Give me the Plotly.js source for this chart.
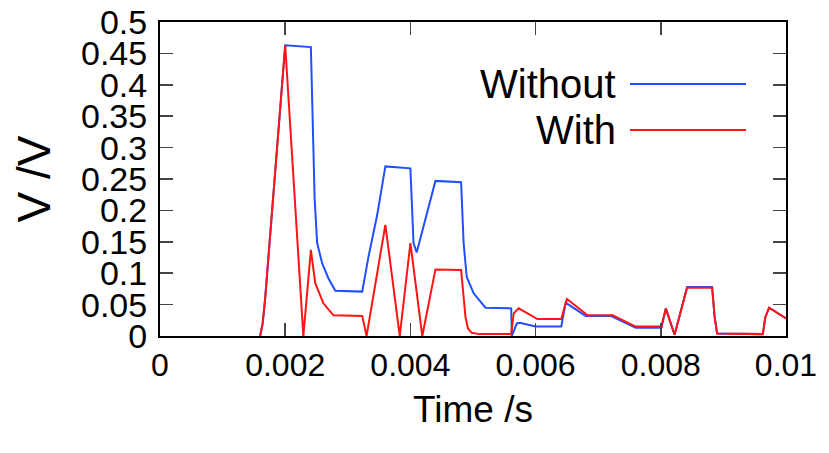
<!DOCTYPE html>
<html>
<head>
<meta charset="utf-8">
<script src="https://cdn.plot.ly/plotly-3.0.1.min.js"></script>
<style>
  html, body { margin: 0; padding: 0; background: #fff; }
  #graphique { width: 829px; height: 453px; }
</style>
</head>
<body>
<div id="graphique"></div>
<script>
// valeurs
var tempsSans = [0.0016, 0.00164, 0.00168, 0.002, 0.00241, 0.00244, 0.00247, 0.00251, 0.00259, 0.00269, 0.0028,
    0.00323, 0.00333, 0.00347, 0.0036, 0.004, 0.00405, 0.0041, 0.0044, 0.00481, 0.00485, 0.0049, 0.00501,
    0.0052, 0.00561, 0.00562, 0.0057, 0.00575, 0.006, 0.00641, 0.00648, 0.0068, 0.0072, 0.0076, 0.00801,
    0.00808, 0.00822, 0.00842, 0.00882, 0.00886, 0.0089, 0.00963, 0.00967, 0.00973, 0.01];
var tensionSans = [0, 0.02, 0.06, 0.463, 0.46, 0.36, 0.22, 0.148, 0.116, 0.092, 0.072,
    0.0707, 0.126, 0.193, 0.27, 0.267, 0.148, 0.133, 0.247, 0.245, 0.148, 0.094, 0.068,
    0.045, 0.044, 0, 0.02, 0.021, 0.015, 0.015, 0.053, 0.032, 0.032, 0.013, 0.013,
    0.044, 0.002, 0.078, 0.078, 0.03, 0.004, 0.003, 0.03, 0.045, 0.028];

var tempsAvec = [0.0016, 0.00164, 0.00168, 0.002, 0.00229, 0.00241, 0.00248, 0.00261, 0.00277, 0.00323,
    0.0033, 0.0036, 0.00383, 0.004, 0.00419, 0.0044, 0.00481, 0.00485, 0.00488, 0.00492, 0.00498, 0.0051,
    0.00561, 0.00565, 0.00573, 0.00603, 0.00641, 0.0065, 0.00683, 0.00723, 0.0076, 0.00801, 0.00808,
    0.00822, 0.00842, 0.00882, 0.00886, 0.0089, 0.00963, 0.00967, 0.00973, 0.01];
var tensionAvec = [0, 0.02, 0.06, 0.463, 0, 0.137, 0.084, 0.052, 0.033, 0.032,
    0, 0.177, 0, 0.148, 0, 0.106, 0.105, 0.06, 0.03, 0.012, 0.005, 0.003,
    0.003, 0.036, 0.044, 0.027, 0.027, 0.059, 0.033, 0.033, 0.015, 0.015, 0.044,
    0.002, 0.077, 0.077, 0.03, 0.004, 0.003, 0.03, 0.045, 0.028];

var noms = ['Without', 'With'];
var couleurs = ['#1f4fff', '#ff1414'];

document.addEventListener('DOMContentLoaded', function() {
    creerGraphique();
});

function creerGraphique() {
    var traceSans = {
        x: tempsSans,
        y: tensionSans,
        mode: 'lines',
        name: noms[0],
        line: { color: couleurs[0], width: 2 }
    };

    var traceAvec = {
        x: tempsAvec,
        y: tensionAvec,
        mode: 'lines',
        name: noms[1],
        line: { color: couleurs[1], width: 2 }
    };

    // légende faite à la main : texte à gauche, trait à droite
    var annotations = [];
    var shapes = [];
    var lignesY = [0.8025, 0.656];
    for (var i = 0; i < noms.length; i++) {
        annotations.push({
            text: noms[i],
            xref: 'paper', yref: 'paper',
            x: 0.7316, y: lignesY[i],
            xanchor: 'right', yanchor: 'middle',
            showarrow: false,
            font: { family: 'Liberation Sans, Arial', size: 40, color: '#000' }
        });
        shapes.push({
            type: 'line',
            xref: 'paper', yref: 'paper',
            x0: 0.7508, x1: 0.9361, y0: lignesY[i], y1: lignesY[i],
            line: { color: couleurs[i], width: 2 }
        });
    }

    var layout = {
        showlegend: false,
        xaxis: {
            range: [0, 0.01],
            dtick: 0.002,
            ticks: 'inside',
            ticklen: 13,
            tickwidth: 1.5,
            tickcolor: '#444',
            showline: true,
            linecolor: '#000',
            linewidth: 2,
            mirror: 'ticks',
            showgrid: false,
            zeroline: false,
            tickfont: { family: 'Liberation Sans, Arial', size: 32, color: '#000' },
            title: {
                text: 'Time /s',
                font: { family: 'Liberation Sans, Arial', size: 37, color: '#000' },
                standoff: 14
            }
        },
        yaxis: {
            range: [0, 0.5],
            dtick: 0.05,
            ticks: 'inside',
            ticklen: 13,
            tickwidth: 1.5,
            tickcolor: '#444',
            showline: true,
            linecolor: '#000',
            linewidth: 2,
            mirror: 'ticks',
            showgrid: false,
            zeroline: false,
            ticklabelstandoff: 4,
            tickfont: { family: 'Liberation Sans, Arial', size: 34, color: '#000' },
            title: {
                text: 'V /V',
                font: { family: 'Liberation Sans, Arial', size: 46, color: '#000' },
                standoff: 16
            }
        },
        annotations: annotations,
        shapes: shapes,
        plot_bgcolor: '#fff',
        paper_bgcolor: '#fff',
        margin: { t: 22, b: 117, l: 160, r: 43 }
    };

    Plotly.newPlot('graphique', [traceSans, traceAvec], layout, { staticPlot: true });
}
</script>
</body>
</html>
